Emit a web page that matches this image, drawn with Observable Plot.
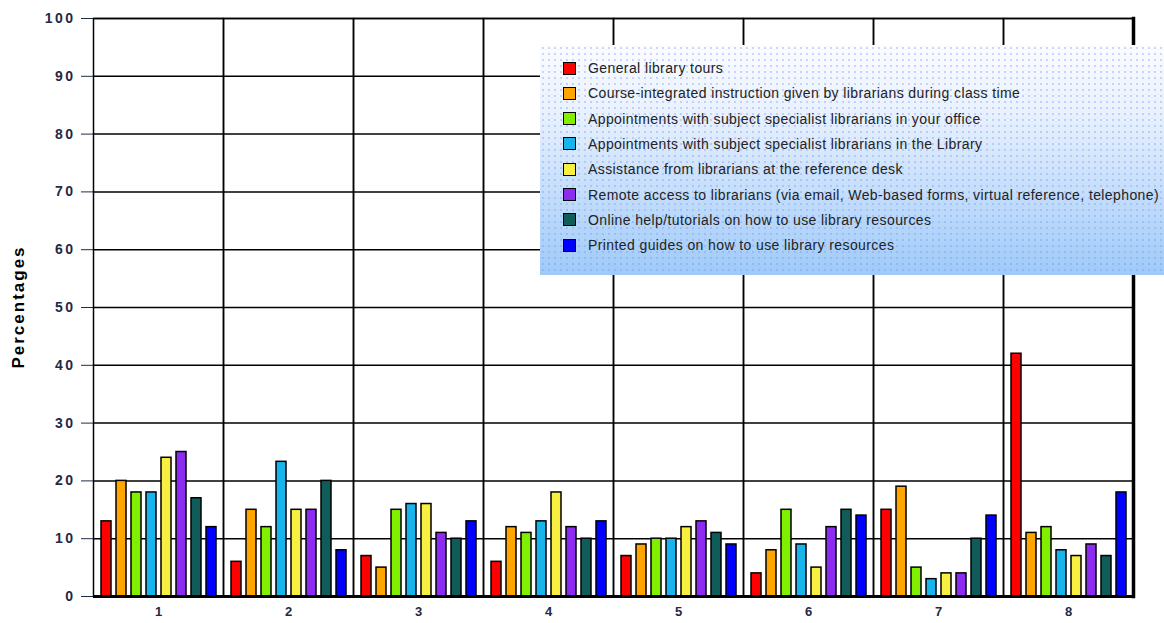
<!DOCTYPE html>
<html>
<head>
<meta charset="utf-8">
<script src="https://cdn.jsdelivr.net/npm/d3@7"></script>
<script src="https://cdn.jsdelivr.net/npm/@observablehq/plot@0.6"></script>
<style>
  html, body { margin: 0; padding: 0; background: #fff; }
  #wrap { position: relative; width: 1164px; height: 623px; overflow: hidden; }
  #ylabel {
    position: absolute; left: 19px; top: 307px; transform: translate(-50%, -50%) rotate(-90deg);
    font-family: "Liberation Sans", Arial, sans-serif; font-size: 17px; font-weight: bold;
    letter-spacing: 2px; color: #000; white-space: nowrap;
  }
  #legend {
    position: absolute; left: 540px; top: 45px; width: 624px; height: 230px;
    background-color: #c9e0fb;
    background-image:
      radial-gradient(circle, rgba(120,140,255,0.35) 0.8px, transparent 1.2px),
      linear-gradient(to bottom, #fbfcff 0%, #e8f1fd 30%, #9fcaf8 100%);
    background-size: 6px 6px, 100% 100%;
    font-family: "Liberation Sans", Arial, sans-serif; font-size: 14px; letter-spacing: 0.4px; color: #222;
  }
  .item { position: absolute; left: 23px; height: 16px; display: flex; align-items: center; white-space: nowrap; }
  .sw { width: 11px; height: 11px; border: 1.5px solid #000; margin-right: 12px; }
</style>
</head>
<body>
<div id="wrap"><div id="chart"></div><div id="ylabel">Percentages</div><div id="legend"></div></div>
<script>
const groups = ["1", "2", "3", "4", "5", "6", "7", "8"];
const series = [
  "General library tours",
  "Course-integrated instruction given by librarians during class time",
  "Appointments with subject specialist librarians in your office",
  "Appointments with subject specialist librarians in the Library",
  "Assistance from librarians at the reference desk",
  "Remote access to librarians (via email, Web-based forms, virtual reference, telephone)",
  "Online help/tutorials on how to use library resources",
  "Printed guides on how to use library resources"
];
const colors = ["#ff0000", "#ffa500", "#80f000", "#1ab4ec", "#f8f040", "#8c2cf0", "#0f5c58", "#0000ff"];

const tours      = [13, 6, 7, 6, 7, 4, 15, 42];
const courseInst = [20, 15, 5, 12, 9, 8, 19, 11];
const apptOffice = [18, 12, 15, 11, 10, 15, 5, 12];
const apptLib    = [18, 23.3, 16, 13, 10, 9, 3, 8];
const refDesk    = [24, 15, 16, 18, 12, 5, 4, 7];
const remote     = [25, 15, 11, 12, 13, 12, 4, 9];
const online     = [17, 20, 10, 10, 11, 15, 10, 7];
const printed    = [12, 8, 13, 13, 9, 14, 14, 18];
const yTicks = [0, 10, 20, 30, 40, 50, 60, 70, 80, 90, 100];

const seriesValues = [tours, courseInst, apptOffice, apptLib, refDesk, remote, online, printed];
const data = [];
groups.forEach((g, gi) => series.forEach((s, si) => data.push({group: g, series: s, value: seriesValues[si][gi]})));

const chart = Plot.plot({
  width: 1164, height: 623,
  marginLeft: 92, marginRight: 31, marginTop: 18, marginBottom: 27,
  style: {fontFamily: "Liberation Sans, Arial, sans-serif", fontSize: "13px", fontWeight: "bold", color: "#1f2a44", background: "white"},
  fx: {domain: groups, padding: 0, label: null, axis: "bottom", tickSize: 0, tickPadding: 10},
  x: {domain: series, paddingInner: 0.36, paddingOuter: 0.32, axis: null},
  y: {domain: [0, 100], ticks: yTicks, tickSize: 12, tickPadding: 6, label: null},
  color: {domain: series, range: colors},
  marks: [
    Plot.ruleY(yTicks, {stroke: "#000", strokeWidth: 1.5}),
    Plot.frame({stroke: "#000", strokeWidth: 1.5}),
    Plot.frame({anchor: "right", facetAnchor: "right", stroke: "#000", strokeWidth: 3.5}),
    Plot.barY(data, {fx: "group", x: "series", y: "value", fill: "series", stroke: "#000", strokeWidth: 1.5}),
    Plot.ruleY([0], {stroke: "#000", strokeWidth: 3})
  ]
});
document.getElementById("chart").appendChild(chart);
chart.querySelectorAll('g[aria-label="y-axis tick label"] text').forEach(t => {
  t.style.fontSize = "14px";
  t.style.letterSpacing = "2.5px";
});

const legend = document.getElementById("legend");
series.forEach((s, i) => {
  const it = document.createElement("div");
  it.className = "item";
  it.style.top = (15 + i * 25.3) + "px";
  const sw = document.createElement("div");
  sw.className = "sw";
  sw.style.background = colors[i];
  const tx = document.createElement("span");
  tx.textContent = s;
  it.appendChild(sw); it.appendChild(tx);
  legend.appendChild(it);
});
</script>
</body>
</html>
